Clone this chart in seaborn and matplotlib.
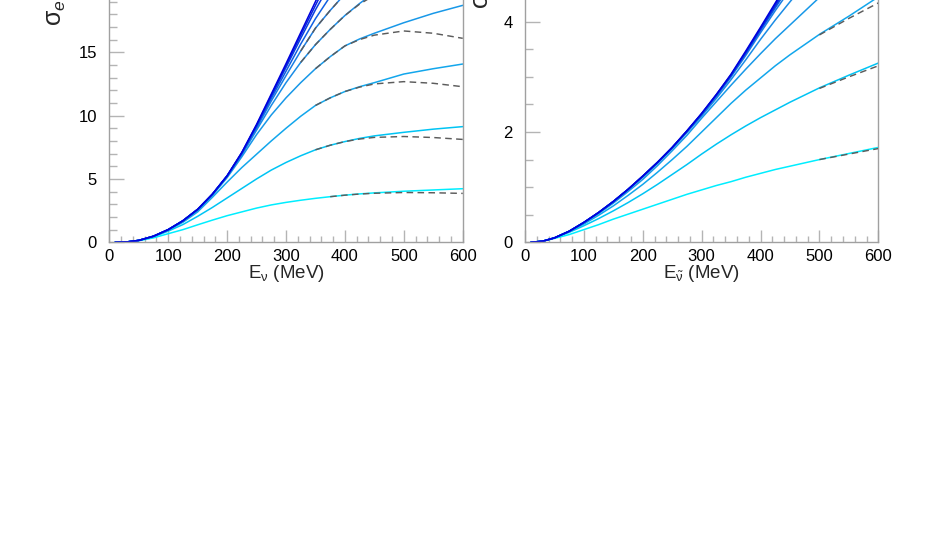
import matplotlib.pyplot as plt
import pandas as pd
import seaborn as sns
from matplotlib.ticker import FixedLocator, MultipleLocator

# neutrino energies (MeV) shared by every curve
energy = [10, 30, 50, 75, 100, 125, 150, 175, 200, 225, 250, 275, 300,
          325, 350, 375, 400, 425, 450, 500, 550, 600]

# left panel: nu cross sections, one list per curve (lowest first)
nu_curves = [
    [0, 0.03, 0.12, 0.35, 0.68, 1.0, 1.38, 1.75, 2.1, 2.4, 2.7, 2.95, 3.15, 3.32, 3.47, 3.6, 3.72, 3.82, 3.9, 4.03, 4.13, 4.23],
    [0, 0.03, 0.14, 0.43, 0.88, 1.4, 2.05, 2.75, 3.5, 4.25, 5.0, 5.7, 6.3, 6.83, 7.3, 7.66, 7.95, 8.2, 8.4, 8.68, 8.93, 9.13],
    [0, 0.03, 0.15, 0.46, 0.95, 1.58, 2.4, 3.55, 4.75, 5.9, 6.95, 8.0, 9.0, 9.95, 10.8, 11.4, 11.9, 12.28, 12.6, 13.28, 13.7, 14.07],
    [0, 0.03, 0.15, 0.47, 0.98, 1.65, 2.5, 3.7, 5.1, 6.75, 8.5, 10.05, 11.4, 12.6, 13.7, 14.65, 15.5, 16.05, 16.5, 17.33, 18.07, 18.7],
    [0, 0.03, 0.15, 0.48, 1.0, 1.7, 2.6, 3.75, 5.2, 6.9, 8.85, 10.8, 12.6, 14.2, 15.6, 16.8, 17.9, 18.85, 19.7, 21.2, 22.4, 23.4],
    [0, 0.03, 0.15, 0.48, 1.0, 1.7, 2.6, 3.78, 5.22, 6.95, 9.0, 11.15, 13.15, 15.1, 16.9, 18.3, 19.6, 20.8, 22.0, 24.0, 25.7, 27.2],
    [0, 0.03, 0.15, 0.48, 1.0, 1.7, 2.6, 3.79, 5.23, 7.0, 9.1, 11.35, 13.5, 15.65, 17.65, 19.4, 21.0, 22.5, 24.0, 26.6, 28.8, 30.7],
    [0, 0.03, 0.15, 0.48, 1.0, 1.7, 2.6, 3.8, 5.24, 7.05, 9.2, 11.5, 13.8, 16.1, 18.35, 20.4, 22.4, 24.2, 26.0, 29.0, 31.6, 33.8],
    [0, 0.03, 0.15, 0.48, 1.0, 1.7, 2.6, 3.8, 5.25, 7.07, 9.25, 11.6, 13.95, 16.35, 18.7, 21.0, 23.2, 25.3, 27.3, 30.8, 33.8, 36.4],
    [0, 0.03, 0.15, 0.48, 1.0, 1.7, 2.6, 3.8, 5.25, 7.1, 9.3, 11.7, 14.1, 16.55, 19.0, 21.45, 23.8, 26.0, 28.2, 32.2, 35.6, 38.6],
]

# dashed comparison curves (left panel), None = not drawn there
nu_dashed_energy = [325, 350, 375, 400, 425, 450, 500, 550, 600]
nu_dashed = [
    [None, None, 3.6, 3.72, 3.81, 3.87, 3.93, 3.91, 3.86],
    [None, 7.3, 7.66, 7.95, 8.15, 8.28, 8.35, 8.27, 8.12],
    [None, 10.8, 11.4, 11.9, 12.25, 12.5, 12.68, 12.55, 12.28],
    [None, 13.7, 14.65, 15.5, 16.0, 16.35, 16.68, 16.5, 16.1],
    [14.2, 15.6, 16.8, 17.9, 18.8, 19.5, 20.3, 20.6, 20.4],
    [15.1, 16.9, 18.3, 19.6, 20.6, 21.3, 22.0, 22.1, 21.8],
]

# right panel: anti-nu cross sections
nubar_curves = [
    [0, 0.02, 0.07, 0.14, 0.23, 0.32, 0.42, 0.51, 0.6, 0.69, 0.78, 0.87, 0.95, 1.03, 1.1, 1.18, 1.25, 1.32, 1.38, 1.5, 1.61, 1.72],
    [0, 0.02, 0.08, 0.18, 0.3, 0.43, 0.57, 0.72, 0.88, 1.05, 1.23, 1.41, 1.6, 1.78, 1.95, 2.11, 2.26, 2.4, 2.54, 2.8, 3.03, 3.25],
    [0, 0.02, 0.08, 0.19, 0.33, 0.49, 0.66, 0.85, 1.05, 1.27, 1.5, 1.74, 2.0, 2.26, 2.52, 2.76, 2.98, 3.2, 3.4, 3.77, 4.1, 4.45],
    [0, 0.02, 0.08, 0.2, 0.35, 0.52, 0.71, 0.92, 1.14, 1.39, 1.66, 1.94, 2.25, 2.55, 2.85, 3.14, 3.42, 3.69, 3.94, 4.44, 4.92, 5.38],
    [0, 0.02, 0.08, 0.2, 0.36, 0.53, 0.73, 0.95, 1.18, 1.43, 1.7, 1.99, 2.29, 2.61, 2.95, 3.31, 3.68, 4.03, 4.36, 5.0, 5.6, 6.15],
    [0, 0.02, 0.08, 0.2, 0.36, 0.54, 0.74, 0.96, 1.19, 1.44, 1.71, 2.0, 2.31, 2.64, 3.0, 3.39, 3.8, 4.2, 4.58, 5.3, 6.0, 6.65],
    [0, 0.02, 0.08, 0.2, 0.36, 0.54, 0.74, 0.96, 1.2, 1.45, 1.72, 2.01, 2.32, 2.66, 3.02, 3.42, 3.84, 4.25, 4.66, 5.45, 6.2, 6.9],
    [0, 0.02, 0.08, 0.2, 0.36, 0.54, 0.74, 0.96, 1.2, 1.45, 1.72, 2.02, 2.33, 2.67, 3.03, 3.44, 3.86, 4.28, 4.7, 5.52, 6.3, 7.05],
    [0, 0.02, 0.08, 0.2, 0.36, 0.54, 0.74, 0.96, 1.2, 1.45, 1.72, 2.02, 2.33, 2.68, 3.04, 3.45, 3.88, 4.31, 4.74, 5.58, 6.4, 7.2],
    [0, 0.02, 0.08, 0.2, 0.36, 0.54, 0.74, 0.96, 1.2, 1.45, 1.72, 2.02, 2.34, 2.68, 3.05, 3.47, 3.9, 4.34, 4.78, 5.65, 6.5, 7.3],
]

nubar_dashed_energy = [500, 550, 600]
nubar_dashed = [
    [1.5, 1.6, 1.7],
    [2.79, 3.0, 3.2],
    [3.76, 4.06, 4.34],
]

nu_yticks = [0, 5, 10, 15]
nubar_yticks = [0, 2, 4]

colors = ['#00eeff', '#00c4f4', '#12a6ec', '#1898e8', '#1a8ce6', '#1a7ee4',
          '#1060e2', '#0a40e0', '#0422e0', '#0000dd']


def long_form(xs, curves):
    rows = []
    for i, ys in enumerate(curves):
        for x, y in zip(xs, ys):
            rows.append({'energy': x, 'sigma': y, 'curve': i})
    return pd.DataFrame(rows).dropna()


sns.set_style('ticks')
plt.rcParams['font.family'] = ['Liberation Sans', 'DejaVu Sans']
plt.rcParams['mathtext.fontset'] = 'custom'
plt.rcParams['mathtext.rm'] = 'Liberation Sans'
plt.rcParams['mathtext.it'] = 'Liberation Sans:italic'

W, H = 937, 545
fig = plt.figure(figsize=(W / 100, H / 100), dpi=100)
fig.patch.set_facecolor('white')

# axes are taller than the canvas: the picture is the lower part of a page
PX1, PX2 = 12.67, 55.15  # pixels per y unit
ax1 = fig.add_axes([109.3 / W, 1 - 242.3 / H, 353.4 / W, 25 * PX1 / H])
ax2 = fig.add_axes([525 / W, 1 - 242.3 / H, 353.3 / W, 6 * PX2 / H])

panels = [
    (ax1, nu_curves, nu_dashed_energy, nu_dashed, 25, PX1, nu_yticks, 1,
     r'E$_{\mathrm{\nu}}$ (MeV)'),
    (ax2, nubar_curves, nubar_dashed_energy, nubar_dashed, 6, PX2, nubar_yticks, 0.5,
     r'E$_{\tilde{\mathrm{\nu}}}$ (MeV)'),
]

for ax, curves, dx, dcurves, ytop, pxu, yticks, ymin, xlabel in panels:
    sns.lineplot(data=long_form(energy, curves), x='energy', y='sigma', hue='curve',
                 palette=colors, legend=False, estimator=None, sort=False,
                 linewidth=1.1, ax=ax)
    sns.lineplot(data=long_form(dx, dcurves), x='energy', y='sigma', units='curve',
                 estimator=None, sort=False, color='#5c5c5c', linewidth=1.05,
                 linestyle=(0, (4.5, 3)), legend=False, zorder=3, ax=ax)

    ax.set_xlim(0, 600)
    ax.set_ylim(0, ytop)
    ax.xaxis.set_major_locator(MultipleLocator(100))
    ax.xaxis.set_minor_locator(MultipleLocator(20))
    ax.yaxis.set_major_locator(FixedLocator(yticks))
    ax.yaxis.set_minor_locator(MultipleLocator(ymin))
    ax.tick_params(axis='x', which='major', direction='in', length=8.8, width=1,
                   color='#b4b4b4', labelsize=12, pad=4.6, labelcolor='black',
                   bottom=True, top=False)
    ax.tick_params(axis='x', which='minor', direction='in', length=4.3, width=1,
                   color='#b4b4b4', bottom=True, top=False)
    ax.tick_params(axis='y', which='major', direction='in', length=11, width=1,
                   color='#b4b4b4', labelsize=12, pad=9, labelcolor='black',
                   left=True, right=False)
    ax.tick_params(axis='y', which='minor', direction='in', length=5.4, width=1,
                   color='#b4b4b4', left=True, right=False)
    for side in ['left', 'bottom', 'right']:
        ax.spines[side].set_color('#a0a0a0')
        ax.spines[side].set_linewidth(1)
    ax.spines['top'].set_visible(False)
    ax.set_xlabel(xlabel, fontsize=13.5)
    ax.set_ylabel('')
    ax.xaxis.set_label_coords(0.5, -20.5 / (ytop * pxu))

fig.text(56 / W, 1 - 26 / H, r'σ$_{e}$', rotation=90, ha='center', va='bottom',
         fontsize=18)
fig.text(483.5 / W, 1 - 9 / H, r'σ$_{\bar{e}}$', rotation=90, ha='center', va='bottom',
         fontsize=18)

fig.savefig('out.png', dpi=100, facecolor='white')
